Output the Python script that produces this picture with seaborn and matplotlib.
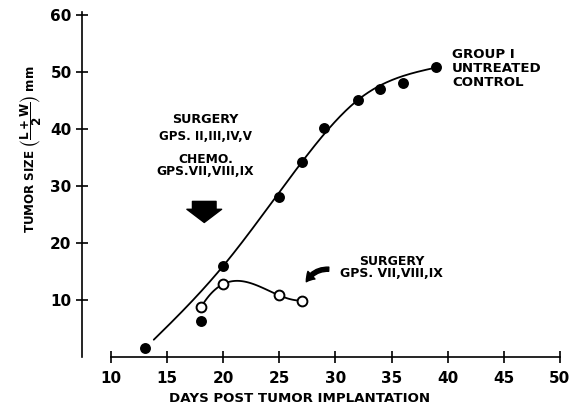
import numpy as np
import pandas as pd
import matplotlib
matplotlib.use('Agg')
import matplotlib.pyplot as plt
from matplotlib import font_manager
import seaborn as sns

# Group I (untreated control) - filled circles
ctrl_days = [13, 18, 20, 25, 27, 29, 32, 34, 36, 39]
ctrl_size = [1.5, 6.3, 16, 28, 34.2, 40.2, 45.1, 47, 48, 50.8]

# Surgery GPS. VII, VIII, IX - open circles
surg_days = [18, 20, 25, 27]
surg_size = [8.7, 12.8, 10.8, 9.9]

# points the hand-drawn Group I curve is pinned to
curve_days = [13, 20, 27, 32, 39]

x_ticks = [10, 15, 20, 25, 30, 35, 40, 45, 50]
y_ticks = [10, 20, 30, 40, 50, 60]


def natural_spline(xk, yk, xs):
    # natural cubic spline through the points
    xk = np.asarray(xk, float)
    yk = np.asarray(yk, float)
    n = len(xk)
    h = np.diff(xk)
    A = np.zeros((n, n))
    b = np.zeros(n)
    A[0, 0] = A[-1, -1] = 1
    for i in range(1, n - 1):
        A[i, i - 1] = h[i - 1]
        A[i, i] = 2 * (h[i - 1] + h[i])
        A[i, i + 1] = h[i]
        b[i] = 6 * ((yk[i + 1] - yk[i]) / h[i] - (yk[i] - yk[i - 1]) / h[i - 1])
    M = np.linalg.solve(A, b)
    idx = np.clip(np.searchsorted(xk, xs) - 1, 0, n - 2)
    x0, x1 = xk[idx], xk[idx + 1]
    hi = h[idx]
    return (M[idx] * (x1 - xs)**3 / (6 * hi) + M[idx + 1] * (xs - x0)**3 / (6 * hi)
            + (yk[idx] / hi - M[idx] * hi / 6) * (x1 - xs)
            + (yk[idx + 1] / hi - M[idx + 1] * hi / 6) * (xs - x0))


sns.set_style('ticks')
plt.rcParams['font.family'] = ['DejaVu Sans']
plt.rcParams['font.weight'] = 'bold'
for k in ['text.color', 'axes.labelcolor', 'xtick.color', 'ytick.color']:
    plt.rcParams[k] = 'black'

names = {f.name for f in font_manager.fontManager.ttflist}
if 'Liberation Sans Narrow' in names:
    ylab_font, ylab_size = 'Liberation Sans Narrow', 10
    plt.rcParams['mathtext.fontset'] = 'custom'
    plt.rcParams['mathtext.bf'] = 'Liberation Sans Narrow:bold'
    plt.rcParams['mathtext.rm'] = 'Liberation Sans Narrow:bold'
else:
    ylab_font, ylab_size = 'DejaVu Sans', 8.6
    plt.rcParams['mathtext.fontset'] = 'dejavusans'
plt.rcParams['mathtext.default'] = 'bf'

fig = plt.figure(figsize=(5.79, 4.08), dpi=100)
ax = fig.add_axes([0.1416, 0.125, 0.835, 0.8466])

# smooth hand-drawn curves through the data
lookup = dict(zip(ctrl_days, ctrl_size))
xx1 = np.linspace(13.8, 39, 250)
curve1 = pd.DataFrame({'day': xx1,
                       'size': natural_spline(curve_days, [lookup[d] for d in curve_days], xx1)})

c2 = np.polyfit(surg_days, surg_size, 3)
xx2 = np.linspace(18.2, 27, 100)
curve2 = pd.DataFrame({'day': xx2, 'size': np.polyval(c2, xx2)})

sns.lineplot(data=curve1, x='day', y='size', color='black', lw=1.3, ax=ax)
sns.lineplot(data=curve2, x='day', y='size', color='black', lw=1.3, ax=ax)

ctrl = pd.DataFrame({'day': ctrl_days, 'size': ctrl_size})
surg = pd.DataFrame({'day': surg_days, 'size': surg_size})
sns.scatterplot(data=ctrl, x='day', y='size', color='black', s=62,
                edgecolor='black', linewidth=0, zorder=5, ax=ax)
sns.scatterplot(data=surg, x='day', y='size', facecolor='white', s=50,
                edgecolor='black', linewidth=1.4, zorder=5, ax=ax)

ax.set_xlim(7.4, 50.5)
ax.set_ylim(0, 60.6)
ax.set_xticks(x_ticks)
ax.set_yticks(y_ticks)
ax.tick_params(direction='inout', length=8, width=1.2, labelsize=11)
ax.tick_params(axis='x', pad=6)
for lab in ax.get_xticklabels() + ax.get_yticklabels():
    lab.set_fontweight('bold')
ax.spines['top'].set_visible(False)
ax.spines['right'].set_visible(False)
ax.spines['bottom'].set_bounds(10, 50)
ax.spines['left'].set_bounds(0, 60.6)
for sp in ['left', 'bottom']:
    ax.spines[sp].set_linewidth(1.2)
    ax.spines[sp].set_color('black')

ax.set_xlabel('DAYS POST TUMOR IMPLANTATION', fontsize=9.6, fontweight='bold')
ax.xaxis.set_label_coords(0.45, -0.1)
ax.set_ylabel(r'TUMOR SIZE $\left(\dfrac{L+W}{2}\right)$ mm', fontsize=ylab_size,
              fontweight='bold', family=ylab_font)
ax.yaxis.set_label_coords(-0.079, 0.6)

ax.text(40.4, 50.7, 'GROUP I\nUNTREATED\nCONTROL', fontsize=9.6, fontweight='bold',
        ha='left', va='center', linespacing=1.1)
ax.text(18.4, 41.6, 'SURGERY', fontsize=9.2, fontweight='bold', ha='center', va='center')
ax.text(18.4, 38.6, 'GPS. II,III,IV,V', fontsize=8.6, fontweight='bold', ha='center', va='center')
ax.text(18.4, 33.6, 'CHEMO.\nGPS.VII,VIII,IX', fontsize=8.8, fontweight='bold',
        ha='center', va='center', linespacing=0.95)
ax.annotate('', xy=(18.3, 23.6), xytext=(18.3, 27.3),
            arrowprops=dict(arrowstyle='simple,head_length=0.95,head_width=2.5,tail_width=1.7',
                            color='black', shrinkA=0, shrinkB=0))

ax.text(35.0, 15.7, 'SURGERY\nGPS. VII,VIII,IX', fontsize=9.0, fontweight='bold',
        ha='center', va='center', linespacing=0.95)
ax.annotate('', xy=(27.4, 13.2), xytext=(29.4, 15.4),
            arrowprops=dict(arrowstyle='simple,head_length=0.6,head_width=0.75,tail_width=0.3',
                            connectionstyle='arc3,rad=0.3', color='black',
                            shrinkA=0, shrinkB=0))

fig.savefig('out.png', dpi=100)
